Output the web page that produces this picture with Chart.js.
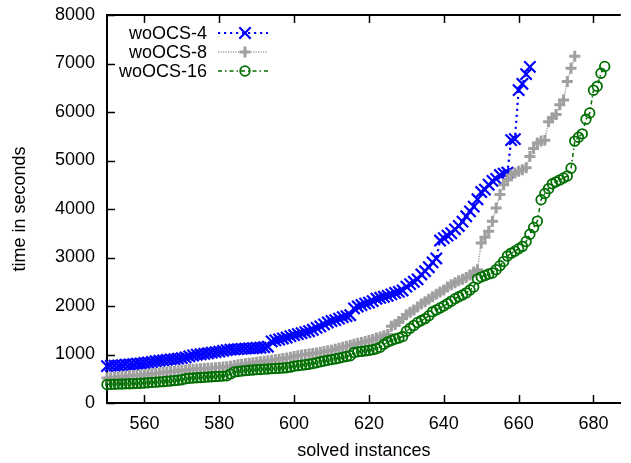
<!DOCTYPE html>
<html>
<head>
<meta charset="utf-8">
<script src="https://cdn.jsdelivr.net/npm/chart.js@4.4.0/dist/chart.umd.min.js"></script>
<style>
  html, body { margin: 0; padding: 0; background: #fff; }
  #wrap { width: 631px; height: 463px; position: relative; }
</style>
</head>
<body>
<div id="wrap"><canvas id="chart"></canvas></div>
<script>
// solved instances start at 550, one value per instance
const firstInstance = 550;
const xTicks = [560, 580, 600, 620, 640, 660, 680];
const yTicks = [0, 1000, 2000, 3000, 4000, 5000, 6000, 7000, 8000];
const seriesNames = ['woOCS-4', 'woOCS-8', 'woOCS-16'];

const woOCS4 = [
  760, 765, 770, 775, 780, 790, 795, 800, 810, 815,
  825, 835, 845, 860, 870, 880, 890, 900, 905, 915,
  925, 940, 960, 980, 995, 1005, 1015, 1025, 1040, 1050,
  1060, 1075, 1090, 1100, 1105, 1110, 1115, 1120, 1125, 1130,
  1135, 1140, 1150, 1160, 1270, 1290, 1310, 1330, 1350, 1380,
  1400, 1420, 1440, 1460, 1480, 1510, 1550, 1580, 1620, 1660,
  1690, 1710, 1740, 1770, 1790, 1810, 1950, 1990, 2020, 2050,
  2070, 2100, 2150, 2170, 2190, 2210, 2240, 2270, 2290, 2320,
  2400, 2450, 2500, 2550, 2650, 2720, 2800, 2900, 2980, 3350,
  3400, 3450, 3500, 3580, 3650, 3740, 3850, 3950, 4050, 4200,
  4350, 4400, 4500, 4580, 4620, 4700, 4730, 4750, 5420, 5440,
  6450, 6580, 6780, 6930
];

const woOCS8 = [
  515, 520, 530, 535, 545, 550, 560, 565, 570, 578,
  585, 595, 605, 610, 620, 630, 640, 650, 655, 665,
  675, 680, 690, 695, 700, 705, 710, 715, 720, 725,
  730, 740, 750, 760, 775, 790, 800, 810, 820, 830,
  840, 850, 860, 870, 880, 890, 900, 915, 930, 945,
  960, 975, 990, 1000, 1010, 1020, 1030, 1045, 1060, 1075,
  1090, 1110, 1130, 1150, 1170, 1190, 1210, 1230, 1250, 1270,
  1290, 1310, 1340, 1360, 1385, 1410, 1580, 1620, 1680, 1740,
  1820, 1870, 1920, 1980, 2040, 2090, 2140, 2190, 2240, 2290,
  2330, 2390, 2440, 2480, 2520, 2550, 2590, 2640, 2700, 2750,
  3300, 3420, 3540, 3750, 4020, 4300, 4500, 4600, 4700, 4740,
  4780, 4810, 4850, 5080, 5250, 5360, 5400, 5420, 5800, 5880,
  5950, 6150, 6250, 6630, 6900, 7150
];

const woOCS16 = [
  380, 385, 388, 390, 392, 395, 398, 400, 405, 408,
  412, 418, 425, 430, 435, 440, 448, 455, 462, 470,
  480, 500, 510, 515, 520, 525, 530, 535, 540, 545,
  550, 555, 560, 600, 640, 650, 660, 668, 675, 680,
  688, 692, 698, 702, 708, 712, 718, 722, 728, 740,
  760, 770, 780, 790, 800, 815, 830, 850, 865, 880,
  895, 910, 925, 945, 960, 975, 1040, 1055, 1065, 1075,
  1085, 1100, 1120, 1150, 1210, 1260, 1290, 1320, 1340, 1370,
  1480, 1540, 1600, 1660, 1700, 1740, 1800, 1880, 1920, 1960,
  2000, 2050, 2100, 2150, 2190, 2230, 2270, 2330, 2390, 2560,
  2600, 2630, 2660, 2680, 2750, 2830, 2920, 3030, 3090, 3130,
  3180, 3230, 3330, 3480, 3620, 3750, 4190, 4320, 4420, 4520,
  4560, 4600, 4640, 4680, 4840, 5400, 5480, 5550, 5850, 5980,
  6450, 6530, 6800, 6940
];

const toPoints = vals => vals.map((v, i) => ({ x: firstInstance + i, y: v }));

const FONT = "'Liberation Sans', Arial, Helvetica, sans-serif";
Chart.defaults.font.family = FONT;
Chart.defaults.font.size = 18;
Chart.defaults.color = '#000';

// gnuplot style frame: inward ticks (mirrored on top), top border, key in the corner
const gnuplotFrame = {
  id: 'gnuplotFrame',
  afterDraw(chart) {
    const { ctx, chartArea: a, scales: { x, y } } = chart;
    ctx.save();
    ctx.strokeStyle = '#000';
    ctx.lineWidth = 2;
    ctx.beginPath();
    ctx.moveTo(a.left, a.top);
    ctx.lineTo(a.right, a.top);
    ctx.stroke();

    ctx.lineWidth = 1.5;
    ctx.beginPath();
    for (const v of xTicks) {
      const px = Math.round(x.getPixelForValue(v)) + 0.5;
      ctx.moveTo(px, a.bottom); ctx.lineTo(px, a.bottom - 8);
      ctx.moveTo(px, a.top); ctx.lineTo(px, a.top + 8);
    }
    for (const v of yTicks) {
      const py = Math.round(y.getPixelForValue(v)) + 0.5;
      ctx.moveTo(a.left, py); ctx.lineTo(a.left + 8, py);
    }
    ctx.stroke();

    // key
    const textRight = 207, x0 = 218, x1 = 268, top = 33, step = 19;
    chart.data.datasets.forEach((ds, i) => {
      const yy = top + step * i;
      ctx.fillStyle = '#000';
      ctx.font = '18px ' + FONT;
      ctx.textAlign = 'right';
      ctx.textBaseline = 'middle';
      ctx.fillText(ds.label, textRight, yy + 1);

      ctx.strokeStyle = ds.borderColor;
      ctx.lineWidth = ds.borderWidth;
      ctx.setLineDash(ds.borderDash);
      ctx.beginPath();
      ctx.moveTo(x0, yy); ctx.lineTo(x1, yy);
      ctx.stroke();
      ctx.setLineDash([]);

      ctx.lineWidth = ds.pointBorderWidth;
      ctx.fillStyle = 'rgba(0,0,0,0)';
      Chart.helpers.drawPoint(ctx, {
        pointStyle: ds.pointStyle, radius: ds.pointRadius,
        borderWidth: ds.pointBorderWidth, rotation: 0
      }, (x0 + x1) / 2 + 2, yy);
    });
    ctx.restore();
  }
};

new Chart(document.getElementById('chart'), {
  type: 'line',
  data: {
    datasets: [
      {
        label: seriesNames[0], data: toPoints(woOCS4), order: 2,
        borderColor: '#0000ff', borderWidth: 2.2, borderDash: [2.2, 3.8],
        pointStyle: 'crossRot', pointRadius: 8, pointBorderWidth: 2.2,
        pointBorderColor: '#0000ff', pointBackgroundColor: 'rgba(0,0,0,0)'
      },
      {
        label: seriesNames[1], data: toPoints(woOCS8), order: 1,
        borderColor: '#a0a0a0', borderWidth: 1.5, borderDash: [1.2, 1.3],
        pointStyle: 'cross', pointRadius: 5.5, pointBorderWidth: 3,
        pointBorderColor: '#a0a0a0', pointBackgroundColor: 'rgba(0,0,0,0)'
      },
      {
        label: seriesNames[2], data: toPoints(woOCS16), order: 0,
        borderColor: '#006e00', borderWidth: 1.5, borderDash: [4, 3, 1.5, 3],
        pointStyle: 'circle', pointRadius: 4.8, pointBorderWidth: 1.8,
        pointBorderColor: '#006e00', pointBackgroundColor: 'rgba(0,0,0,0)'
      }
    ]
  },
  options: {
    responsive: true,
    maintainAspectRatio: false,
    animation: false,
    devicePixelRatio: 1,
    layout: { padding: { top: 15, right: 0, left: 0, bottom: 0 } },
    elements: { line: { tension: 0 } },
    datasets: { line: { clip: false } },
    plugins: { legend: { display: false }, tooltip: { enabled: false } },
    scales: {
      x: {
        type: 'linear', min: 550, max: 687.3,
        afterBuildTicks: s => { s.ticks = xTicks.map(v => ({ value: v })); },
        afterFit: s => { s.height = 60; s.paddingLeft = 0; s.paddingRight = 0; },
        grid: { display: false, drawTicks: false },
        border: { display: true, color: '#000', width: 2 },
        ticks: { padding: 10, maxRotation: 0, autoSkip: false, color: '#000', callback: v => String(v) },
        title: { display: true, text: 'solved instances', color: '#000', padding: { top: 0, bottom: 1 } }
      },
      y: {
        min: 0, max: 8000,
        afterBuildTicks: s => { s.ticks = yTicks.map(v => ({ value: v })); },
        afterFit: s => { s.width = 107; s.paddingTop = 0; s.paddingBottom = 0; },
        grid: { display: false, drawTicks: false },
        border: { display: true, color: '#000', width: 2 },
        ticks: { padding: 12, color: '#000', callback: v => String(v) },
        title: { display: true, text: 'time in seconds', color: '#000', padding: { top: 9, bottom: 0 } }
      }
    }
  },
  plugins: [gnuplotFrame]
});
</script>
</body>
</html>
